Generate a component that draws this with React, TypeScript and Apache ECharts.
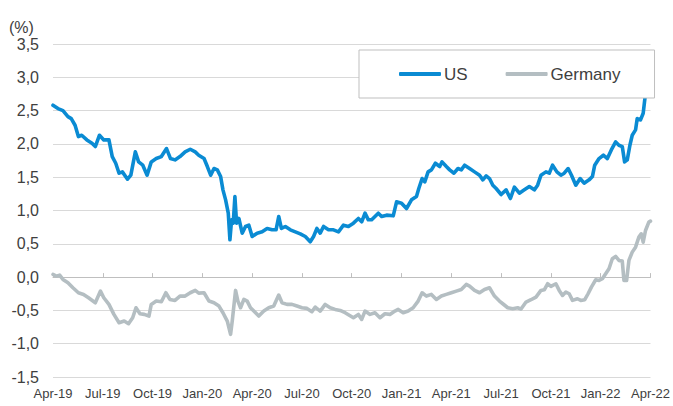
import React, { useEffect, useRef } from "react";
import * as echarts from "echarts";

const tickLabels = ["Apr-19","Jul-19","Oct-19","Jan-20","Apr-20","Jul-20","Oct-20","Jan-21","Apr-21","Jul-21","Oct-21","Jan-22","Apr-22"];

// x = months since April 2019, y = yield in %
const usData: [number, number][] = [
  [0, 2.58],[0.3, 2.53],[0.6, 2.5],[0.9, 2.41],[1.1, 2.38],[1.33, 2.28],[1.53, 2.11],[1.73, 2.13],[2.04, 2.06],[2.35, 2.01],[2.55, 1.96],[2.8, 2.13],[3.06, 2.06],[3.37, 2.06],[3.57, 1.81],[3.78, 1.71],[3.98, 1.56],[4.18, 1.58],[4.49, 1.47],[4.69, 1.53],[4.96, 1.88],[5.16, 1.73],[5.41, 1.68],[5.67, 1.53],[5.92, 1.73],[6.22, 1.78],[6.53, 1.81],[6.84, 1.93],[7.08, 1.78],[7.35, 1.76],[7.65, 1.81],[7.96, 1.88],[8.27, 1.92],[8.57, 1.88],[8.78, 1.83],[9.1, 1.78],[9.3, 1.66],[9.5, 1.53],[9.7, 1.63],[9.9, 1.61],[10.1, 1.51],[10.24, 1.31],[10.4, 1.16],[10.56, 0.96],[10.66, 0.56],[10.76, 0.86],[10.86, 0.81],[10.96, 1.21],[11.06, 0.81],[11.2, 0.88],[11.4, 0.66],[11.6, 0.76],[11.8, 0.78],[12.0, 0.61],[12.3, 0.66],[12.6, 0.68],[12.9, 0.73],[13.2, 0.71],[13.44, 0.71],[13.6, 0.91],[13.76, 0.73],[14.0, 0.76],[14.3, 0.71],[14.6, 0.68],[14.9, 0.65],[15.2, 0.61],[15.5, 0.53],[15.7, 0.61],[15.9, 0.73],[16.1, 0.66],[16.3, 0.76],[16.6, 0.71],[16.9, 0.71],[17.2, 0.68],[17.5, 0.78],[17.8, 0.76],[18.1, 0.81],[18.4, 0.88],[18.6, 0.83],[18.8, 0.96],[19.0, 0.86],[19.2, 0.86],[19.4, 0.91],[19.6, 0.96],[19.8, 0.91],[20.1, 0.93],[20.5, 0.92],[20.7, 1.13],[21.0, 1.11],[21.3, 1.03],[21.6, 1.16],[21.9, 1.21],[22.04, 1.33],[22.24, 1.48],[22.4, 1.43],[22.6, 1.58],[22.8, 1.61],[23.04, 1.71],[23.3, 1.66],[23.44, 1.73],[23.7, 1.66],[23.9, 1.61],[24.16, 1.56],[24.4, 1.63],[24.6, 1.61],[24.8, 1.68],[25.1, 1.63],[25.4, 1.58],[25.7, 1.53],[25.9, 1.46],[26.1, 1.52],[26.3, 1.48],[26.5, 1.38],[26.7, 1.33],[27.0, 1.24],[27.3, 1.31],[27.56, 1.18],[27.8, 1.35],[28.1, 1.26],[28.4, 1.31],[28.7, 1.36],[29.0, 1.31],[29.2, 1.38],[29.4, 1.53],[29.7, 1.58],[29.9, 1.56],[30.1, 1.68],[30.36, 1.58],[30.6, 1.53],[30.8, 1.56],[31.04, 1.63],[31.24, 1.53],[31.5, 1.38],[31.76, 1.48],[32.0, 1.41],[32.3, 1.46],[32.5, 1.51],[32.64, 1.68],[32.9, 1.78],[33.16, 1.83],[33.4, 1.78],[33.64, 1.91],[33.9, 2.03],[34.1, 1.98],[34.3, 1.96],[34.44, 1.73],[34.6, 1.76],[34.76, 1.98],[34.9, 2.13],[35.1, 2.21],[35.2, 2.38],[35.4, 2.36],[35.56, 2.46],[35.7, 2.76],[35.85, 2.85]
];

const germanyData: [number, number][] = [
  [0, 0.04],[0.2, 0.015],[0.4, 0.03],[0.6, -0.035],[0.9, -0.085],[1.2, -0.16],[1.53, -0.235],[1.84, -0.26],[2.14, -0.31],[2.55, -0.385],[2.86, -0.21],[3.06, -0.31],[3.37, -0.41],[3.67, -0.56],[3.98, -0.685],[4.29, -0.66],[4.55, -0.7],[4.8, -0.61],[5.0, -0.46],[5.24, -0.55],[5.5, -0.56],[5.78, -0.585],[5.92, -0.41],[6.22, -0.36],[6.53, -0.37],[6.8, -0.235],[7.04, -0.335],[7.35, -0.35],[7.65, -0.285],[7.96, -0.285],[8.27, -0.235],[8.57, -0.2],[8.78, -0.24],[9.1, -0.235],[9.4, -0.36],[9.7, -0.385],[10.0, -0.435],[10.24, -0.535],[10.5, -0.66],[10.7, -0.86],[10.8, -0.66],[11.0, -0.2],[11.14, -0.36],[11.3, -0.46],[11.5, -0.335],[11.7, -0.36],[11.9, -0.46],[12.1, -0.51],[12.4, -0.585],[12.7, -0.51],[13.0, -0.46],[13.3, -0.435],[13.6, -0.27],[13.8, -0.385],[14.1, -0.41],[14.4, -0.41],[14.7, -0.435],[15.0, -0.46],[15.3, -0.47],[15.6, -0.52],[15.8, -0.45],[16.1, -0.51],[16.4, -0.41],[16.7, -0.46],[17.0, -0.485],[17.3, -0.5],[17.6, -0.535],[17.8, -0.565],[18.1, -0.61],[18.4, -0.56],[18.6, -0.635],[18.8, -0.51],[19.1, -0.56],[19.4, -0.535],[19.7, -0.61],[20.0, -0.55],[20.3, -0.56],[20.6, -0.51],[20.8, -0.485],[21.1, -0.535],[21.4, -0.51],[21.7, -0.46],[22.0, -0.36],[22.24, -0.235],[22.5, -0.285],[22.8, -0.26],[23.1, -0.335],[23.4, -0.285],[23.7, -0.26],[24.0, -0.235],[24.3, -0.21],[24.6, -0.185],[24.9, -0.11],[25.1, -0.135],[25.4, -0.2],[25.7, -0.235],[26.0, -0.185],[26.3, -0.16],[26.6, -0.285],[26.9, -0.36],[27.1, -0.4],[27.4, -0.46],[27.7, -0.475],[28.0, -0.46],[28.2, -0.48],[28.5, -0.375],[28.8, -0.34],[29.1, -0.3],[29.4, -0.2],[29.6, -0.19],[29.8, -0.1],[30.0, -0.14],[30.3, -0.1],[30.5, -0.2],[30.7, -0.275],[30.9, -0.225],[31.1, -0.25],[31.3, -0.35],[31.6, -0.325],[31.8, -0.35],[32.04, -0.34],[32.24, -0.25],[32.44, -0.15],[32.7, -0.04],[32.9, -0.05],[33.1, -0.025],[33.3, 0.05],[33.5, 0.125],[33.7, 0.275],[33.9, 0.31],[34.1, 0.25],[34.3, 0.24],[34.4, -0.05],[34.56, -0.05],[34.7, 0.25],[34.9, 0.375],[35.1, 0.45],[35.3, 0.6],[35.44, 0.65],[35.56, 0.525],[35.7, 0.7],[35.9, 0.825],[36.0, 0.84]
];

const FONT = '"Liberation Sans", Arial, sans-serif';

export default function App() {
  const ref = useRef<HTMLDivElement>(null);
  useEffect(() => {
    if (!ref.current) return;
    const chart = echarts.init(ref.current, null, { renderer: "svg" });
    chart.setOption({
      animation: false,
      backgroundColor: "#ffffff",
      textStyle: { fontFamily: FONT },
      grid: { left: 53, right: 20, top: 44, bottom: 29 },
      graphic: [
        {
          type: "text",
          left: 9,
          top: 19,
          style: { text: "(%)", fontSize: 16, fontFamily: FONT, fill: "#404040" },
        },
      ],
      legend: {
        left: 359,
        top: 50,
        padding: [14, 34, 14, 40],
        itemGap: 38,
        itemWidth: 42,
        itemHeight: 4,
        icon: "roundRect",
        backgroundColor: "#ffffff",
        borderColor: "#bfbfbf",
        borderWidth: 1,
        textStyle: { fontSize: 17, color: "#404040", fontFamily: FONT, lineHeight: 20, padding: [0, 0, 0, -2] },
        data: ["US", "Germany"],
      },
      xAxis: [
        {
          type: "value",
          min: 0,
          max: 36,
          interval: 3,
          position: "bottom",
          axisLine: { show: false, onZero: false },
          axisTick: { show: false },
          splitLine: { show: false },
          axisLabel: {
            fontSize: 13,
            color: "#404040",
            fontFamily: '"Liberation Sans Narrow", "Liberation Sans", Arial, sans-serif',
            margin: 10,
            formatter: (v: number) => tickLabels[Math.round(v / 3)] ?? "",
          },
        },
        {
          type: "value",
          min: 0,
          max: 36,
          interval: 3,
          position: "top",
          axisLine: { show: true, onZero: true, lineStyle: { color: "#bfbfbf", width: 1 } },
          axisTick: { show: true, length: 4, lineStyle: { color: "#bfbfbf" } },
          axisLabel: { show: false },
          splitLine: { show: false },
        },
      ],
      yAxis: {
        type: "value",
        min: -1.5,
        max: 3.5,
        interval: 0.5,
        axisLine: { show: false },
        axisTick: { show: false },
        splitLine: { lineStyle: { color: "#d9d9d9", width: 1 } },
        axisLabel: {
          fontSize: 16,
          color: "#404040",
          margin: 14,
          formatter: (v: number) => v.toFixed(1).replace(".", ","),
        },
      },
      series: [
        {
          name: "US",
          type: "line",
          xAxisIndex: 0,
          data: usData,
          showSymbol: false,
          symbol: "none",
          lineStyle: { color: "#0a8bd3", width: 3.6, join: "round", cap: "round" },
          itemStyle: { color: "#0a8bd3" },
          z: 3,
        },
        {
          name: "Germany",
          type: "line",
          xAxisIndex: 0,
          data: germanyData,
          showSymbol: false,
          symbol: "none",
          lineStyle: { color: "#b4bec2", width: 3.6, join: "round", cap: "round" },
          itemStyle: { color: "#b4bec2" },
          z: 2,
        },
      ],
    });
    return () => chart.dispose();
  }, []);
  return (
    <div
      ref={ref}
      style={{ position: "fixed", left: 0, top: 0, width: 673, height: 406 }}
    />
  );
}
